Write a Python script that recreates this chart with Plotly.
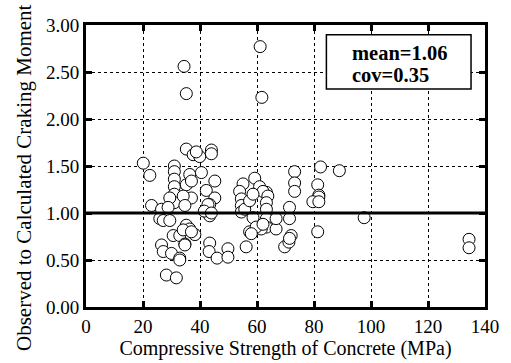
import plotly.graph_objects as go

# Concrete compressive strength (MPa) and observed / calculated cracking moment ratio
strength = [
    61.1, 34.4, 35.2, 61.7,
    35.2, 37.6, 39.9, 44.0, 44.0, 38.7,
    20.1, 22.4, 23.0, 26.5, 25.9, 27.1, 26.5, 27.1, 28.2, 31.7,
    31.0, 31.0, 31.0, 31.0, 31.0, 31.0, 29.4, 28.8, 29.4, 30.6, 30.0, 32.9, 32.9, 32.9,
    36.4, 35.2, 37.0, 37.0, 34.1, 34.7, 35.2, 36.4, 38.2, 34.1, 34.7, 37.0, 34.7,
    40.5, 45.2, 42.2, 45.2, 43.4, 43.4, 42.8, 43.4, 43.2, 46.0, 49.8, 49.8, 41.5, 44.0,
    55.1, 53.9, 54.5, 54.5, 54.5, 55.7, 59.2, 60.9, 63.3, 62.1, 63.8, 57.4, 58.6,
    63.3, 63.3, 63.3, 63.3, 61.5, 57.4, 56.2, 58.6, 59.7, 58.0, 62.1,
    66.7, 66.7, 71.4, 71.4, 69.7, 71.2, 72.0, 73.2, 73.2, 73.2, 71.4,
    82.3, 88.9, 81.3, 81.7, 81.7, 79.6, 81.7, 81.3,
    97.6, 134.4, 134.4,
]
ratio = [
    2.77, 2.56, 2.27, 2.23,
    1.68, 1.62, 1.60, 1.67, 1.63, 1.65,
    1.53, 1.40, 1.08, 1.04, 0.94, 0.92, 0.66, 0.59, 0.34, 0.31,
    1.50, 1.44, 1.36, 1.28, 1.20, 1.11, 1.16, 1.06, 0.92, 0.76, 0.57, 0.52, 0.50, 0.76,
    1.41, 1.30, 1.34, 1.16, 1.18, 1.08, 0.87, 0.83, 0.77, 0.82, 0.67, 0.80, 0.66,
    1.43, 1.34, 1.24, 1.16, 1.09, 0.97, 1.09, 0.68, 0.59, 0.52, 0.62, 0.53, 1.02, 1.00,
    1.31, 1.23, 1.15, 1.08, 1.01, 1.04, 1.37, 1.28, 1.22, 1.23, 1.18, 1.13, 1.20,
    1.11, 1.04, 0.94, 0.85, 0.83, 0.80, 0.64, 0.95, 0.85, 0.78, 0.88,
    0.83, 0.94, 1.06, 0.94, 0.64, 0.69, 0.76, 1.44, 1.32, 1.23, 0.73,
    1.49, 1.45, 1.30, 1.19, 1.17, 1.12, 1.12, 0.80,
    0.95, 0.72, 0.63,
]

x_ticks = [0, 20, 40, 60, 80, 100, 120, 140]
y_ticks = [0.0, 0.5, 1.0, 1.5, 2.0, 2.5, 3.0]
stats_text = ["mean=1.06", "cov=0.35"]
x_title = "Compressive Strength of Concrete (MPa)"
y_title = "Observed to Calculated Craking Moment"

serif = "Liberation Serif"

fig = go.Figure()
fig.add_trace(go.Scatter(
    x=strength, y=ratio, mode="markers",
    marker=dict(size=12, color="white", line=dict(color="black", width=1)),
    showlegend=False, cliponaxis=False,
))

# reference line at ratio = 1
fig.add_hline(y=1.0, line=dict(color="black", width=3), layer="above")

axis_common = dict(
    showline=True, linecolor="black", linewidth=3, mirror="ticks",
    ticks="inside", ticklen=6, tickwidth=3, tickcolor="black",
    showgrid=True, gridcolor="black", gridwidth=1, griddash="3px,3px",
    zeroline=False,
    tickfont=dict(family=serif, size=19, color="black"),
)

fig.update_xaxes(
    range=[0, 140], tickvals=x_ticks,
    title=dict(text=x_title, font=dict(family=serif, size=20, color="black"), standoff=0),
    **axis_common,
)
fig.update_yaxes(range=[0, 3.0], tickvals=y_ticks, tickformat=".2f", **axis_common)

# vertical axis title, placed as a rotated annotation
fig.add_annotation(
    xref="paper", yref="paper", x=-0.155, y=0.458, xanchor="center", yanchor="middle",
    text=y_title, textangle=-90, showarrow=False,
    font=dict(family=serif, size=21, color="black"),
)

# statistics box
fig.add_shape(
    type="rect", xref="paper", yref="paper",
    x0=0.6025, x1=0.965, y0=0.773, y1=0.965,
    line=dict(color="black", width=1.5), fillcolor="white", layer="above",
)
for line_text, y_pos in zip(stats_text, [0.902, 0.821]):
    fig.add_annotation(
        xref="paper", yref="paper", x=0.6625, y=y_pos, xanchor="left", yanchor="middle",
        text="<b>" + line_text + "</b>",
        showarrow=False, align="left",
        font=dict(family=serif, size=20.5, color="black"),
    )

fig.update_layout(
    width=511, height=363,
    margin=dict(l=86, r=25, t=25, b=52),
    plot_bgcolor="white", paper_bgcolor="white",
    font=dict(family=serif, color="black"),
)

fig.write_html("out.html")
